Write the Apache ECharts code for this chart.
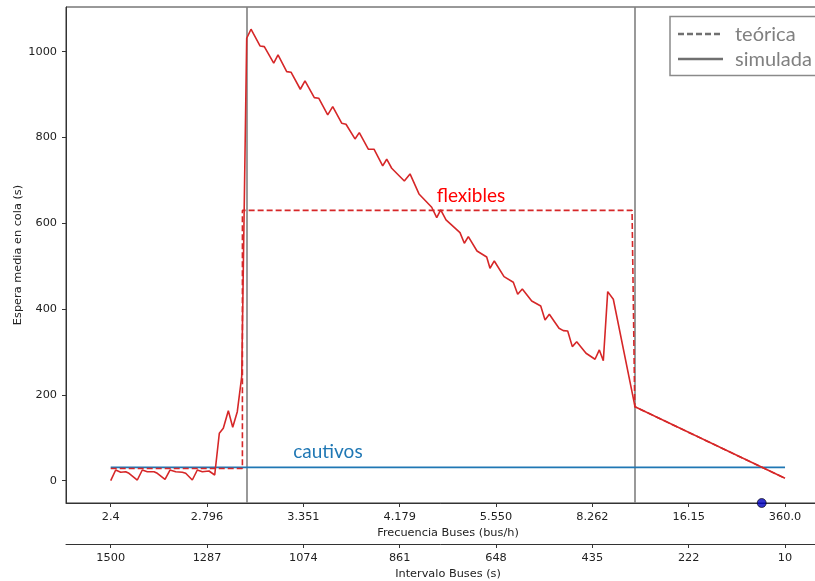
<!DOCTYPE html>
<html>
<head>
<meta charset="utf-8">
<script src="https://cdn.jsdelivr.net/npm/echarts@6/dist/echarts.min.js"></script>
<style>
html,body{margin:0;padding:0;background:#fff;}
#c{width:815px;height:581px;}
</style>
</head>
<body>
<div id="c"></div>
<script>
// Tick positions (interval, s) and their labels
const tickValues = [1500, 1287.14, 1074.29, 861.43, 648.57, 435.71, 222.86, 10];
const freqLabels = ['2.4', '2.796', '3.351', '4.179', '5.550', '8.262', '16.15', '360.0'];
const intervalLabels = ['1500', '1287', '1074', '861', '648', '435', '222', '10'];
const yTicks = [0, 200, 400, 600, 800, 1000];

// Simulated wait (flexibles)
const simInterval = [1500, 1489, 1477.9, 1466.9, 1459.6, 1441.2, 1430.2, 1419.1, 1404.3, 1397, 1380, 1369, 1356.4, 1341.8, 1334.3, 1319.7, 1308.6, 1297.6, 1282.8, 1270.2,
  1260, 1251.2, 1240.1, 1230.4, 1220.3, 1210.5, 1199.5, 1190, 1170.1, 1160.6, 1139.8, 1130.3, 1111.1, 1101.6, 1081, 1070.7, 1050.1, 1040.4, 1020.5, 1009.4,
  989.6, 980.1, 960.2, 950.7, 930.8, 918.2, 899, 890.1, 879.1, 851.2, 838.6, 818.8, 790.7, 779.6, 770.8, 759.1, 728.2, 718.6, 709.8, 690.6,
  669.2, 661.9, 652.4, 630.9, 610.4, 600.7, 590.5, 569.7, 549.8, 540.3, 530.8, 509.4, 499.9, 490.2, 480, 470.3, 449.7, 429.8, 420.3, 411.5,
  401.8, 389.4, 341.5, 10];
const simWait = [0, 24.9, 19.6, 21, 17.2, 1.6, 24.9, 21, 21, 17.2, 3.3, 24.9, 21, 19.6, 17.2, 1.6, 24.9, 21, 22.6, 13.3,
  110.5, 122.1, 163.2, 124.5, 160.8, 242.4, 1031.2, 1052.2, 1013.3, 1011.7, 973, 992.3, 953.4, 952, 912.3, 931.7, 892.8, 891.4, 852.4, 871.8,
  833.1, 830.8, 796.5, 811.2, 772.5, 772.5, 733.6, 749.2, 728.2, 698.6, 714.9, 668.3, 637.3, 613.1, 631, 607.7, 578.1, 553.4, 568.8, 535.4,
  521.4, 495.1, 512.1, 475.5, 462.5, 434.5, 446.9, 418.9, 407.2, 374.6, 387.9, 355.2, 349.7, 349, 312.4, 324, 297, 283, 304.7, 279.7,
  440.6, 422.8, 172.5, 5.6];

// Theoretical wait (flexibles)
const theoInterval = [1500, 1209, 1209, 348, 342, 10];
const theoWait = [28.5, 28.5, 630, 630, 172.5, 5.6];

// Captive users wait
const captInterval = [1500, 10];
const captWait = [31, 31];

// Regime limits (interval, s)
const limits = [1200, 342.9];

// Marker point
const dotPoint = [61.5, -52];

// Annotations
const annotations = [
  {text: 'flexibles', x: 704, y: 664, color: '#ff0000'},
  {text: 'cautivos', x: 1020, y: 67, color: '#1f77b4'}
];

// Legend entries
const legendNames = ['teórica', 'simulada'];

const zip = (a, b) => a.map((v, i) => [v, b[i]]);
const nearestLabel = (labels) => (v) => {
  let best = 0, d = Infinity;
  tickValues.forEach((t, i) => { if (Math.abs(t - v) < d) { d = Math.abs(t - v); best = i; } });
  return labels[best];
};

const XMIN = -89.4, XMAX = 1598.8;
const axisFont = {fontFamily: 'DejaVu Sans', fontSize: 11.3, color: '#222'};

const chart = echarts.init(document.getElementById('c'), null, {renderer: 'canvas'});
const option = {
  animation: false,
  backgroundColor: '#fff',
  grid: {left: 66, top: 7, right: -15, bottom: 78, containLabel: false, outerBoundsMode: 'none',
    show: true, borderColor: '#333', borderWidth: 1, backgroundColor: 'transparent'},
  xAxis: [
    {
      type: 'value', min: XMIN, max: XMAX, inverse: true, position: 'bottom',
      axisLine: {show: true, onZero: false, lineStyle: {color: '#333', width: 1}},
      axisTick: {show: true, customValues: tickValues, length: 4, lineStyle: {color: '#333'}},
      axisLabel: Object.assign({customValues: tickValues, formatter: nearestLabel(freqLabels), margin: 9}, axisFont),
      splitLine: {show: false},
      name: 'Frecuencia Buses (bus/h)', nameLocation: 'middle', nameGap: 25,
      nameTextStyle: axisFont
    },
    {
      type: 'value', min: XMIN, max: XMAX, inverse: true, position: 'bottom', offset: 41,
      axisLine: {show: true, onZero: false, lineStyle: {color: '#333', width: 1}},
      axisTick: {show: true, customValues: tickValues, length: 4, lineStyle: {color: '#333'}},
      axisLabel: Object.assign({customValues: tickValues, formatter: nearestLabel(intervalLabels), margin: 9}, axisFont),
      splitLine: {show: false},
      name: 'Intervalo Buses (s)', nameLocation: 'middle', nameGap: 25,
      nameTextStyle: axisFont
    }
  ],
  yAxis: {
    type: 'value', min: -52, max: 1104,
    axisLine: {show: true, onZero: false, lineStyle: {color: '#333', width: 1}},
    axisTick: {show: true, customValues: yTicks, length: 4, lineStyle: {color: '#333'}},
    axisLabel: Object.assign({customValues: yTicks, margin: 9, formatter: (v) => String(v)}, axisFont),
    splitLine: {show: false},
    name: 'Espera media en cola (s)', nameLocation: 'middle', nameGap: 42, nameRotate: 90,
    nameMoveOverlap: false,
    nameTextStyle: axisFont
  },
  series: [
    {
      name: 'cautivos', type: 'line', data: zip(captInterval, captWait), symbol: 'none',
      lineStyle: {color: '#1f77b4', width: 1.6}, z: 3
    },
    {
      name: 'flex-teo', type: 'line', data: zip(theoInterval, theoWait), symbol: 'none',
      lineStyle: {color: '#d62728', width: 1.6, type: [6, 3]}, z: 4
    },
    {
      name: 'flex-sim', type: 'line', data: zip(simInterval, simWait), symbol: 'none',
      lineStyle: {color: '#d62728', width: 1.6}, z: 5,
      markLine: {
        silent: true, symbol: 'none', label: {show: false},
        lineStyle: {color: '#808080', width: 1.6, type: 'solid'},
        data: limits.map(v => ({xAxis: v})), z: 2
      }
    },
    {
      name: 'punto', type: 'scatter', data: [dotPoint], clip: false,
      symbolSize: 9, itemStyle: {color: '#0000c0', borderColor: '#000', borderWidth: 0.8}, z: 10
    }
  ]
};
chart.setOption(option);

const graphics = annotations.map(a => {
  const p = chart.convertToPixel({xAxisIndex: 0, yAxisIndex: 0}, [a.x, a.y]);
  return {
    type: 'text', x: p[0], y: p[1], z: 20,
    style: {text: a.text, fill: a.color, font: '19px Lato', textAlign: 'center', textVerticalAlign: 'middle'}
  };
});
// Legend box (drawn as graphic so that the key shows plain lines)
graphics.push({type: 'rect', shape: {x: 670, y: 16.5, width: 170, height: 59}, z: 30,
  style: {fill: '#fff', stroke: '#8a8a8a', lineWidth: 1.5}});
graphics.push({type: 'line', shape: {x1: 678, y1: 34, x2: 723, y2: 34}, z: 31,
  style: {stroke: '#707070', lineWidth: 2.5, lineDash: [6, 3]}});
graphics.push({type: 'line', shape: {x1: 678, y1: 59, x2: 723, y2: 59}, z: 31,
  style: {stroke: '#707070', lineWidth: 2.5}});
legendNames.forEach((n, i) => {
  graphics.push({type: 'text', x: 735, y: 35 + i * 25, z: 31,
    style: {text: n, fill: '#808080', font: '20px Lato', textAlign: 'left', textVerticalAlign: 'middle'}});
});
chart.setOption({graphic: graphics});
</script>
</body>
</html>
